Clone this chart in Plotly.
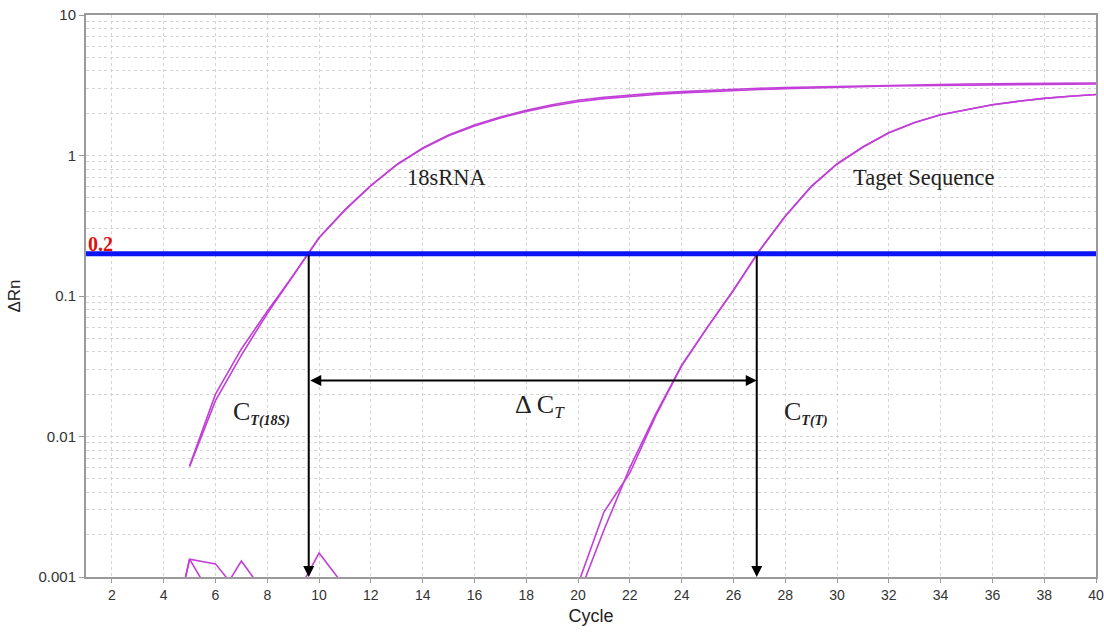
import math
import plotly.graph_objects as go

# ---------------- data ----------------
cycles_18s = list(range(5, 41))
rn_18s_rep1 = [0.0062, 0.020, 0.042, 0.078, 0.14, 0.26, 0.41, 0.61, 0.86, 1.13,
               1.40, 1.65, 1.88, 2.10, 2.30, 2.47, 2.60, 2.70, 2.78, 2.85,
               2.91, 2.96, 3.01, 3.05, 3.08, 3.11, 3.14, 3.17, 3.19, 3.21,
               3.23, 3.24, 3.25, 3.26, 3.27, 3.28]
rn_18s_rep2 = [0.0061, 0.018, 0.038, 0.075, 0.14, 0.26, 0.41, 0.61, 0.86, 1.12,
               1.38, 1.62, 1.85, 2.06, 2.25, 2.41, 2.54, 2.64, 2.72, 2.79,
               2.85, 2.90, 2.95, 2.99, 3.03, 3.06, 3.09, 3.12, 3.14, 3.16,
               3.18, 3.19, 3.20, 3.21, 3.22, 3.23]

cycles_target = list(range(4, 41))
rn_target_rep1 = [0.0002, 0.00134, 0.00124, 0.00073, 0.0004, 0.0003, 0.0005, 0.0004,
                  0.0003, 0.0005, 0.0004, 0.0003, 0.0004, 0.0005, 0.0003, 0.0004,
                  0.00089, 0.0029, 0.0055, 0.014, 0.032, 0.060, 0.11, 0.21,
                  0.37, 0.60, 0.87, 1.15, 1.45, 1.72, 1.95, 2.13, 2.30, 2.43,
                  2.55, 2.64, 2.72]
rn_target_rep2 = [0.0002, 0.00134, 0.00065, 0.0013, 0.00072, 0.00068, 0.00148, 0.00085,
                  0.0004, 0.0003, 0.0005, 0.0004, 0.0003, 0.0004, 0.0005, 0.0004,
                  0.00072, 0.00216, 0.0060, 0.0145, 0.032, 0.060, 0.11, 0.21,
                  0.37, 0.60, 0.87, 1.15, 1.45, 1.72, 1.95, 2.13, 2.30, 2.43,
                  2.55, 2.64, 2.72]

threshold = 0.2
ct_18s = 9.6
ct_target = 26.9
delta_arrow_level = 0.025
y_bottom = 0.001
x_range = [1, 40]
y_ticks = [0.001, 0.01, 0.1, 1, 10]
y_ticktext = ["0.001", "0.01", "0.1", "1", "10"]

# ---------------- figure ----------------
curve_color = "#c23fd8"
fig = go.Figure()
for xs, ys in [(cycles_target, rn_target_rep1), (cycles_target, rn_target_rep2),
               (cycles_18s, rn_18s_rep1), (cycles_18s, rn_18s_rep2)]:
    fig.add_trace(go.Scatter(x=xs, y=ys, mode="lines",
                             line=dict(color=curve_color, width=1.6),
                             showlegend=False, hoverinfo="skip"))

fig.add_trace(go.Scatter(x=x_range, y=[threshold, threshold], mode="lines",
                         line=dict(color="#0a14f5", width=5),
                         showlegend=False, hoverinfo="skip"))

L = math.log10
serif = "Liberation Serif, Times New Roman, serif"
ann = []
# vertical arrows at Ct
for ct in (ct_18s, ct_target):
    ann.append(dict(x=ct, y=L(y_bottom), ax=ct, ay=L(threshold),
                    xref="x", yref="y", axref="x", ayref="y", text="",
                    showarrow=True, arrowhead=2, arrowsize=1.1, arrowwidth=2,
                    arrowcolor="black"))
# horizontal double arrow
ann.append(dict(x=ct_target, y=L(delta_arrow_level), ax=ct_18s, ay=L(delta_arrow_level),
                xref="x", yref="y", axref="x", ayref="y", text="",
                showarrow=True, arrowhead=2, startarrowhead=2, arrowside="end+start",
                arrowsize=1.1, startarrowsize=1.1, arrowwidth=2, arrowcolor="black"))

def label(x, y, text, size, color="#222", xanchor="left"):
    ann.append(dict(x=x, y=y, xref="paper", yref="paper", text=text, showarrow=False,
                    xanchor=xanchor, yanchor="middle",
                    font=dict(family=serif, size=size, color=color)))

W, H = 1104, 634
ml, mr, mt, mb = 86, 8, 15, 57
pw, ph = W - ml - mr, H - mt - mb
def px(xp): return (xp - ml) / pw
def py(yp): return 1 - (yp - mt) / ph

label(px(405), py(177), "18sRNA", 22.5)
label(px(851), py(177), "Taget Sequence", 22.5)
label(px(86), py(244), "<b>0.2</b>", 20, color="#e01010")
label(px(231), py(413),
      "C<sub><span style='font-size:14px'><b><i>T(18S)</i></b></span></sub>", 26)
label(px(513), py(406),
      "Δ C<sub><span style='font-size:17px'><i>T</i></span></sub>", 26)
label(px(782), py(413),
      "C<sub><span style='font-size:14px'><b><i>T(T)</i></b></span></sub>", 26)

fig.update_layout(annotations=ann)

grid = dict(gridcolor="#d4d4d4", griddash="3px,3px", gridwidth=1)
fig.update_xaxes(range=x_range, tick0=2, dtick=2, showgrid=True, **grid,
                 automargin=False, ticklabeloverflow="allow",
                 showline=True, linecolor="#9a9a9a", linewidth=2, mirror=True,
                 ticks="outside", ticklen=4, tickcolor="#9a9a9a",
                 tickfont=dict(family="Arial, Liberation Sans", size=14, color="#333"),
                 title=dict(text="Cycle", font=dict(family="Arial, Liberation Sans", size=18, color="#222"),
                            standoff=8),
                 zeroline=False)
fig.update_yaxes(type="log", range=[L(y_bottom), L(10)], tickvals=y_ticks, ticktext=y_ticktext,
                 showgrid=True, **grid, automargin=False, ticklabeloverflow="allow",
                 minor=dict(dtick="D1", showgrid=True, gridcolor="#d4d4d4", griddash="3px,3px",
                            ticks=""),
                 showline=True, linecolor="#9a9a9a", linewidth=2, mirror=True,
                 ticks="outside", ticklen=5, tickcolor="#9a9a9a",
                 tickfont=dict(family="Arial, Liberation Sans", size=15, color="#333"),
                 title=dict(text="ΔRn", font=dict(family="Arial, Liberation Sans", size=17, color="#222"),
                            standoff=14),
                 zeroline=False)

fig.update_layout(width=W, height=H, margin=dict(l=ml, r=mr, t=mt, b=mb),
                  plot_bgcolor="white", paper_bgcolor="white")

fig.write_html("out.html", config={"displayModeBar": False},
               post_script="document.body.style.margin='0px';document.body.style.overflow='hidden';")
